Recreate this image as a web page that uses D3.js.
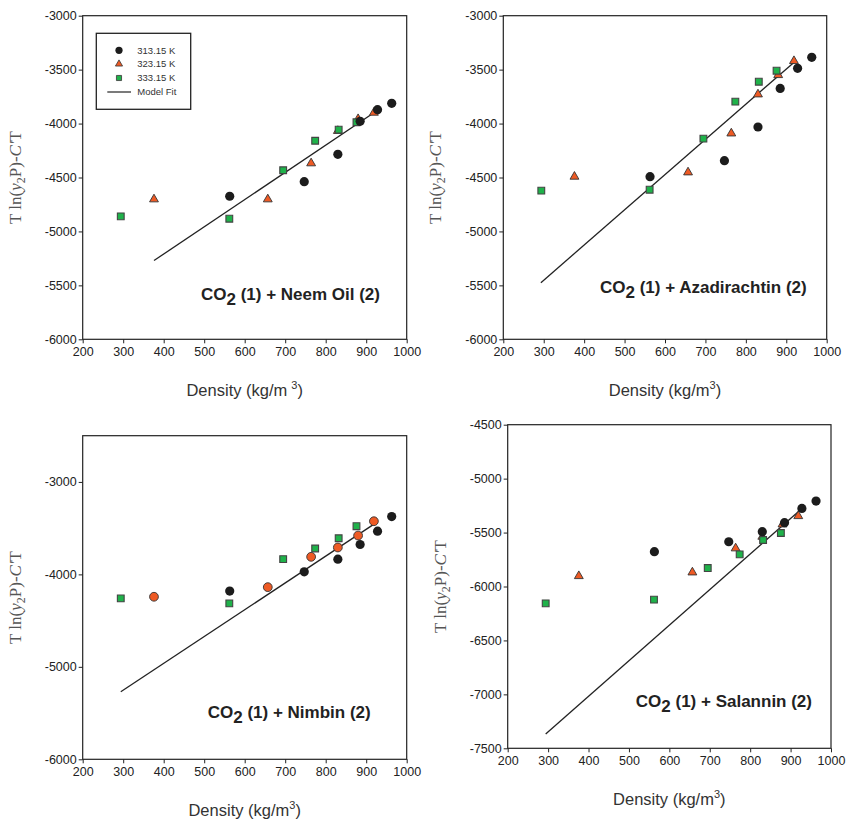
<!DOCTYPE html>
<html>
<head>
<meta charset="utf-8">
<script src="https://cdn.jsdelivr.net/npm/d3@7"></script>
<style>
  body { margin: 0; background: #fff; }
  svg { display: block; }
  .tick text { font-family: "Liberation Sans", Arial, sans-serif; font-size: 12.5px; fill: #222; }
  .tick line, .domain { stroke: #222; }
</style>
</head>
<body>
<svg id="chart" width="850" height="819"></svg>
<script>
// densities (kg/m3) for each isotherm, shared by all four systems
const density313 = [563, 747, 830, 885, 928, 963];
const density323 = [376, 657, 764, 830, 880, 919];
const density333 = [294, 562, 695, 774, 832, 876];

const xTicks = [200, 300, 400, 500, 600, 700, 800, 900, 1000];

// CO2 + Neem Oil
const neem313 = [-4674, -4539, -4285, -3979, -3871, -3812];
const neem323 = [-4702, -4702, -4368, -4068, -3958, -3899];
const neem333 = [-4860, -4882, -4433, -4159, -4057, -3988];
const neemFitX = [376, 919];
const neemFitY = [-5270, -3900];
const neemTicks = [-6000, -5500, -5000, -4500, -4000, -3500, -3000];

// CO2 + Azadirachtin
const aza313 = [-4492, -4344, -4032, -3674, -3488, -3386];
const aza323 = [-4492, -4452, -4091, -3729, -3550, -3420];
const aza333 = [-4622, -4613, -4140, -3797, -3612, -3510];
const azaFitX = [293, 921];
const azaFitY = [-5475, -3426];
const azaTicks = [-6000, -5500, -5000, -4500, -4000, -3500, -3000];

// CO2 + Nimbin
const nim313 = [-4181, -3972, -3835, -3677, -3533, -3375];
const nim323 = [-4242, -4138, -3810, -3709, -3580, -3425];
const nim333 = [-4260, -4314, -3835, -3720, -3609, -3479];
const nimFitX = [294, 924];
const nimFitY = [-5270, -3443];
const nimTicks = [-6000, -5000, -4000, -3000];

// CO2 + Salannin
const sal313 = [-5677, -5585, -5492, -5408, -5276, -5208];
const sal323 = [-5903, -5869, -5646, -5538, -5424, -5347];
const sal333 = [-6156, -6122, -5829, -5702, -5569, -5504];
const salFitX = [294, 919];
const salFitY = [-7367, -5306];
const salTicks = [-7500, -7000, -6500, -6000, -5500, -5000, -4500];

const legendLabels = ["313.15 K", "323.15 K", "333.15 K", "Model Fit"];

const panels = [
  { name: "Neem Oil", y313: neem313, y323: neem323, y333: neem333, fitX: neemFitX, fitY: neemFitY,
    yDomain: [-6000, -3000], yTicks: neemTicks, left: 82.7, top: 15.7, right: 406.7, bottom: 339.3,
    labelDx: 26.7, labelDy: 39, legend: true, orangeCircles: false, supGap: 4 },
  { name: "Azadirachtin", y313: aza313, y323: aza323, y333: aza333, fitX: azaFitX, fitY: azaFitY,
    yDomain: [-6000, -3000], yTicks: azaTicks, left: 503.3, top: 15.7, right: 826.7, bottom: 339.3,
    labelDx: 20, labelDy: 46, legend: false, orangeCircles: false, supGap: 0 },
  { name: "Nimbin", y313: nim313, y323: nim323, y333: nim333, fitX: nimFitX, fitY: nimFitY,
    yDomain: [-6000, -2500], yTicks: nimTicks, left: 82.7, top: 435.7, right: 406.7, bottom: 759.3,
    labelDx: 36, labelDy: 41, legend: false, orangeCircles: true, supGap: 0 },
  { name: "Salannin", y313: sal313, y323: sal323, y333: sal333, fitX: salFitX, fitY: salFitY,
    yDomain: [-7500, -4500], yTicks: salTicks, left: 507.7, top: 424.7, right: 831, bottom: 748.3,
    labelDx: 19, labelDy: 41.6, legend: false, orangeCircles: false, supGap: 0 }
];

const svg = d3.select("#chart");
const black = "#1c1c1c";
const orange = "#ee5a24";
const green = "#1fb24a";
const plain = function (d) { return String(d); };

const triangle = d3.symbol().type(d3.symbolTriangle).size(34);
const square = d3.symbol().type(d3.symbolSquare).size(46);

panels.forEach(function (p) {
  const x = d3.scaleLinear().domain([200, 1000]).range([p.left, p.right]);
  const y = d3.scaleLinear().domain(p.yDomain).range([p.bottom, p.top]);
  const g = svg.append("g");

  g.append("g")
    .attr("transform", "translate(0," + p.bottom + ")")
    .call(d3.axisBottom(x).tickValues(xTicks).tickSize(4).tickSizeOuter(0).tickPadding(4).tickFormat(plain))
    .call(function (a) { a.select(".domain").remove(); });

  g.append("g")
    .attr("transform", "translate(" + p.left + ",0)")
    .call(d3.axisLeft(y).tickValues(p.yTicks).tickSize(4).tickSizeOuter(0).tickPadding(2).tickFormat(plain))
    .call(function (a) { a.select(".domain").remove(); });

  g.append("rect")
    .attr("x", p.left).attr("y", p.top)
    .attr("width", p.right - p.left).attr("height", p.bottom - p.top)
    .attr("fill", "none").attr("stroke", "#222").attr("stroke-width", 1.2);

  // model fit line
  const line = d3.line().x(function (d) { return x(d[0]); }).y(function (d) { return y(d[1]); });
  g.append("path")
    .attr("d", line(d3.zip(p.fitX, p.fitY)))
    .attr("fill", "none").attr("stroke", "#222").attr("stroke-width", 1.3);

  // 323.15 K
  const mid = d3.zip(density323, p.y323);
  if (p.orangeCircles) {
    g.selectAll(".p323").data(mid).enter().append("circle")
      .attr("cx", function (d) { return x(d[0]); })
      .attr("cy", function (d) { return y(d[1]); })
      .attr("r", 4.4)
      .attr("fill", orange).attr("stroke", "#333").attr("stroke-width", 0.9);
  } else {
    g.selectAll(".p323").data(mid).enter().append("path")
      .attr("d", triangle)
      .attr("transform", function (d) { return "translate(" + x(d[0]) + "," + y(d[1]) + ")"; })
      .attr("fill", orange).attr("stroke", "#333").attr("stroke-width", 0.9);
  }

  // 333.15 K
  g.selectAll(".p333").data(d3.zip(density333, p.y333)).enter().append("path")
    .attr("d", square)
    .attr("transform", function (d) { return "translate(" + x(d[0]) + "," + y(d[1]) + ")"; })
    .attr("fill", green).attr("stroke", "#444").attr("stroke-width", 1.1);

  // 313.15 K
  g.selectAll(".p313").data(d3.zip(density313, p.y313)).enter().append("circle")
    .attr("cx", function (d) { return x(d[0]); })
    .attr("cy", function (d) { return y(d[1]); })
    .attr("r", 4.6)
    .attr("fill", black);

  // system label
  const lab = g.append("text")
    .attr("x", p.right - p.labelDx).attr("y", p.bottom - p.labelDy)
    .attr("text-anchor", "end")
    .attr("font-family", "Liberation Sans, Arial, sans-serif")
    .attr("font-weight", "bold").attr("font-size", 17).attr("fill", "#222");
  lab.append("tspan").text("CO");
  lab.append("tspan").attr("dy", 5).text("2");
  lab.append("tspan").attr("dy", -5).text(" (1) + " + p.name + " (2)");

  // axis titles
  const cx = (p.left + p.right) / 2;
  const xt = g.append("text")
    .attr("x", cx).attr("y", p.bottom + 57)
    .attr("text-anchor", "middle")
    .attr("font-family", "Liberation Sans, Arial, sans-serif")
    .attr("font-size", 16.5).attr("fill", "#333");
  xt.append("tspan").text("Density (kg/m");
  xt.append("tspan").attr("dx", p.supGap).attr("dy", -7).attr("font-size", 11).text("3");
  xt.append("tspan").attr("dy", 7).text(")");

  const cy = (p.top + p.bottom) / 2;
  const yt = g.append("text")
    .attr("transform", "translate(" + (p.left - 62) + "," + cy + ") rotate(-90)")
    .attr("text-anchor", "middle")
    .attr("font-family", "Liberation Serif, Times New Roman, serif")
    .attr("font-size", 17).attr("fill", "#555");
  yt.append("tspan").text("T ln(");
  yt.append("tspan").attr("font-style", "italic").text("y");
  yt.append("tspan").attr("dy", 4).attr("font-size", 12).text("2");
  yt.append("tspan").attr("dy", -4).text("P)-");
  yt.append("tspan").attr("font-style", "italic").text("C′");
  yt.append("tspan").text("T");

  // legend
  if (p.legend) {
    const lg = g.append("g").attr("transform", "translate(" + (p.left + 13.6) + "," + (p.top + 17.6) + ")");
    lg.append("rect").attr("width", 94.4).attr("height", 76)
      .attr("fill", "#fff").attr("stroke", "#222").attr("stroke-width", 1.3);
    const rows = [17, 30.7, 44.7, 58.7];
    legendLabels.forEach(function (t, i) {
      const ry = rows[i];
      if (i === 0) {
        lg.append("circle").attr("cx", 22.7).attr("cy", ry).attr("r", 3.6).attr("fill", black);
      } else if (i === 1) {
        lg.append("path").attr("d", d3.symbol().type(d3.symbolTriangle).size(22))
          .attr("transform", "translate(22.7," + ry + ")")
          .attr("fill", orange).attr("stroke", "#333").attr("stroke-width", 0.8);
      } else if (i === 2) {
        lg.append("path").attr("d", d3.symbol().type(d3.symbolSquare).size(26))
          .attr("transform", "translate(22.7," + ry + ")")
          .attr("fill", green).attr("stroke", "#444").attr("stroke-width", 0.9);
      } else {
        lg.append("line").attr("x1", 11).attr("x2", 34.7).attr("y1", ry).attr("y2", ry)
          .attr("stroke", "#222").attr("stroke-width", 1.2);
      }
      lg.append("text").attr("x", 41).attr("y", ry + 3.5)
        .attr("font-family", "Liberation Sans, Arial, sans-serif")
        .attr("font-size", 9.5).attr("fill", "#333").text(t);
    });
  }
});
</script>
</body>
</html>
